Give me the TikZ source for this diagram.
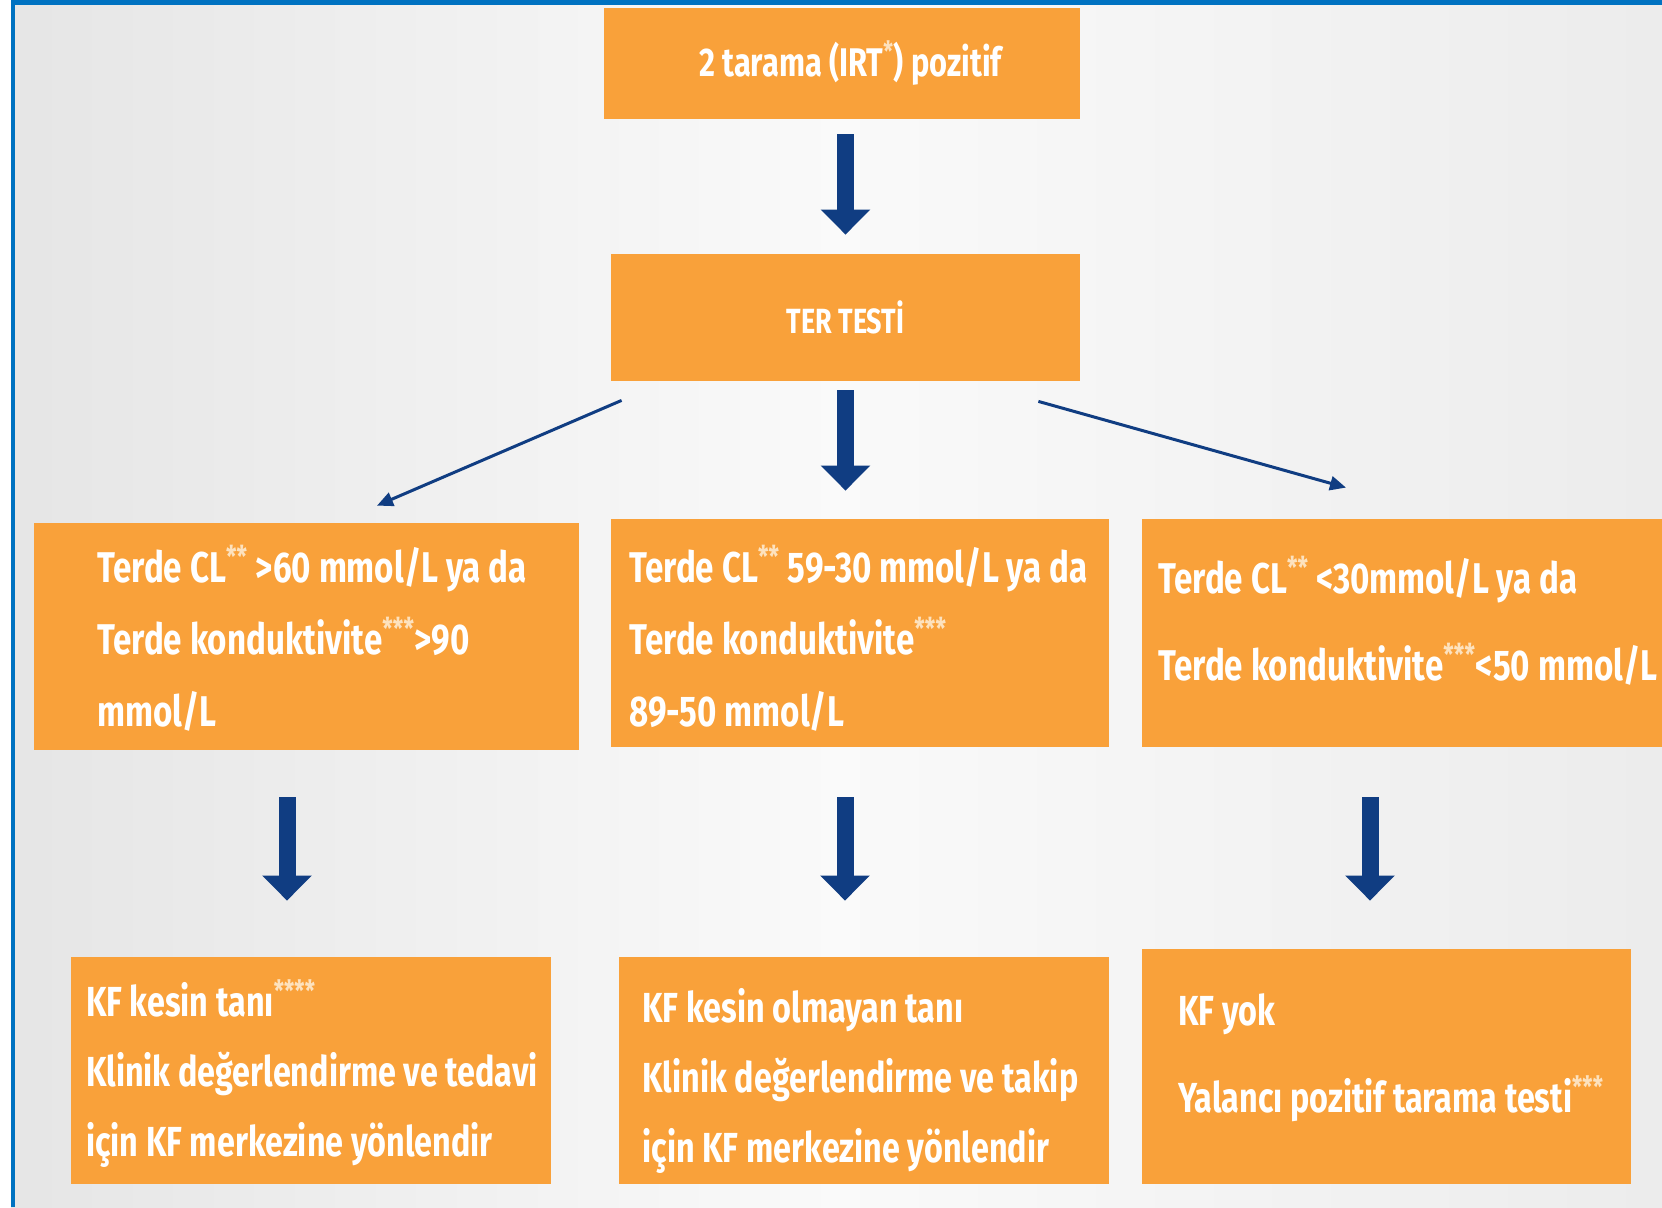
\documentclass[tikz,border=0pt]{standalone}
\usepackage{fontspec}
\usetikzlibrary{arrows.meta, positioning, calc}
\newfontfamily\boxfont{Fira Sans}[FakeStretch=0.77]
\definecolor{kforange}{RGB}{249,161,58}
\definecolor{kfblue}{RGB}{16,61,130}
\definecolor{frameblue}{RGB}{0,114,193}
\definecolor{starcol}{RGB}{253,226,190}
\newcommand{\stars}[1]{\textsuperscript{\textcolor{starcol}{#1}}}

\begin{document}
\begin{tikzpicture}[
    x=0.5pt, y=-0.5pt,
    box/.style={fill=kforange, inner sep=0pt},
    boxtext/.style={text=white, align=left, inner sep=0pt, anchor=west,
                    font=\boxfont\bfseries\fontsize{21.5}{36}\selectfont},
    lowtext/.style={boxtext, font=\boxfont\bfseries\fontsize{21}{35}\selectfont},
    bigarrow/.style={draw=kfblue, line width=8.5pt,
                     -{Triangle[width=24pt, length=12.5pt]}},
    thinarrow/.style={draw=kfblue, line width=1.5pt,
                      -{Triangle[width=7pt, length=8pt]}}
  ]
  \useasboundingbox (0,0) rectangle (1662,1207);
  \fill[white] (0,0) rectangle (11,1207);
  \shade[left color=gray!20, right color=gray!15, middle color=gray!4]
    (11,0) rectangle (1662,1207);
  \fill[frameblue] (11,0) rectangle (15,1207);
  \fill[frameblue] (11,0) rectangle (1662,4.5);

  \node[box, text=white, minimum width=238pt, minimum height=55.5pt,
        font=\boxfont\bfseries\fontsize{20}{24}\selectfont]
    (irt) at (842,63.5) {\hspace*{8.5pt}2 tarama (IRT\stars{*}) pozitif};
  \node[box, text=white, minimum width=234.5pt, minimum height=63.5pt,
        font=\boxfont\bfseries\fontsize{17.5}{21}\selectfont]
    (ter) at (845.5,317.5) {TER TESTİ};

  \node[box, minimum width=272.5pt, minimum height=113.5pt] (highcl) at (306.5,636.5) {};
  \node[box, minimum width=249pt, minimum height=114pt] (midcl) at (860,633) {};
  \node[box, minimum width=269pt, minimum height=114pt] (lowcl) at (1411,633) {};
  \node[box, minimum width=240pt, minimum height=113.5pt] (kfyes) at (311,1070.5) {};
  \node[box, minimum width=245pt, minimum height=113.5pt] (kfmaybe) at (864,1070.5) {};
  \node[box, minimum width=244.5pt, minimum height=117.5pt] (kfno) at (1386.5,1066.5) {};

  \node[boxtext] (highcl-txt) at ($(highcl.west)+(63.5,2)$)
    {Terde CL\stars{**} >60 mmol/L ya da\\ Terde konduktivite\stars{***}>90\\ mmol/L};
  \node[boxtext] (midcl-txt) at ($(midcl.west)+(18.5,5.5)$)
    {Terde CL\stars{**} 59-30 mmol/L ya da\\ Terde konduktivite\stars{***}\\ 89-50 mmol/L};
  \node[boxtext] (lowcl-txt) at ($(lowcl.west)+(16.5,-12.5)$)
    {Terde CL\stars{**} <30mmol/L ya da\\[7.5pt] Terde konduktivite\stars{***}<50 mmol/L};
  \node[lowtext] (kfyes-txt) at ($(kfyes.west)+(15,3)$)
    {KF kesin tanı\stars{****}\\ Klinik değerlendirme ve tedavi\\ için KF merkezine yönlendir};
  \node[lowtext] (kfmaybe-txt) at ($(kfmaybe.west)+(23.5,10)$)
    {KF kesin olmayan tanı\\ Klinik değerlendirme ve takip\\ için KF merkezine yönlendir};
  \node[lowtext] (kfno-txt) at ($(kfno.west)+(36.5,-9)$)
    {KF yok\\[8.5pt] Yalancı pozitif tarama testi\stars{***}};

  \draw[bigarrow, shorten <=7.5pt, shorten >=9.5pt] (ter.north |- irt.south) -- (ter.north);
  \draw[bigarrow, shorten <=4.5pt, shorten >=14pt] (ter.south) -- (ter.south |- midcl.north);
  \draw[thinarrow] ($(ter.south west)+(11,19)$) -- ($(highcl.north)+(70.5,-17)$);
  \draw[thinarrow] ($(ter.south east)+(-42,20)$) -- ($(lowcl.north)+(-65,-31)$);

  \draw[bigarrow, shorten <=23.5pt, shorten >=28pt]
    ([xshift=-9.75pt]highcl.south) -- ([xshift=-9.75pt]highcl.south |- kfyes.north);
  \draw[bigarrow, shorten <=25pt, shorten >=28pt]
    ([xshift=-7.5pt]midcl.south) -- ([xshift=-7.5pt]midcl.south |- kfmaybe.north);
  \draw[bigarrow, shorten <=25pt, shorten >=24pt]
    ([xshift=-20.5pt]lowcl.south) -- ([xshift=-20.5pt]lowcl.south |- kfno.north);
\end{tikzpicture}
\end{document}
